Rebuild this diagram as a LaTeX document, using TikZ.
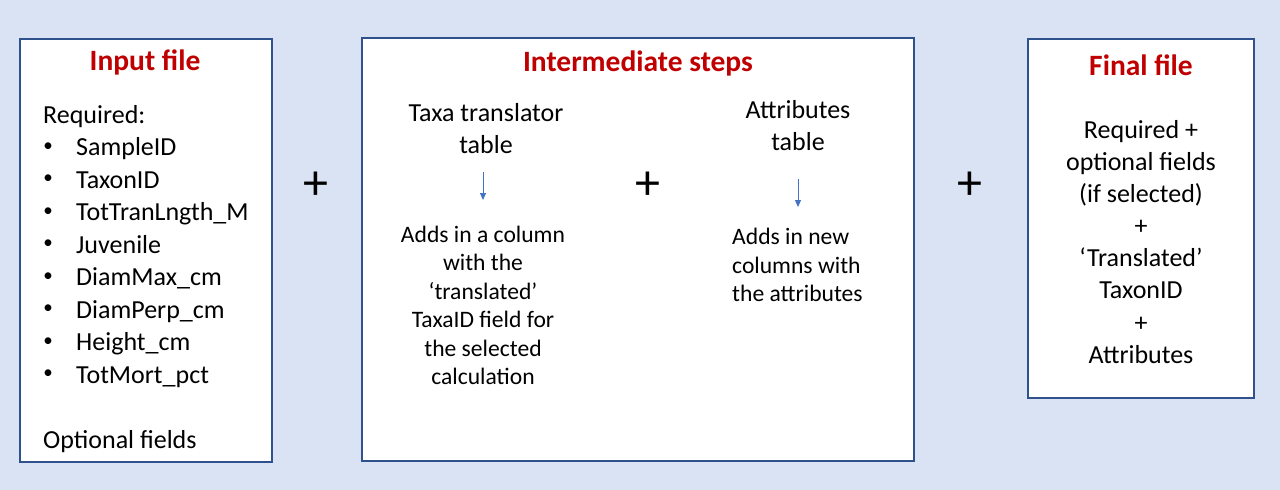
\documentclass[tikz,border=0pt]{standalone}
\usepackage{fontspec}
\setmainfont{Carlito}
\usetikzlibrary{arrows.meta}
\definecolor{bgblue}{HTML}{DAE3F3}
\definecolor{boxline}{HTML}{2F528F}
\definecolor{titlered}{HTML}{C00000}
\definecolor{arrowblue}{HTML}{4472C4}
\tikzset{
  panel/.style={draw=boxline, line width=2pt, fill=white},
  ttl/.style={anchor=base, inner sep=0pt, text=titlered, font=\fontsize{29.5}{35}\selectfont\bfseries},
  body/.style={anchor=base, inner sep=0pt, font=\fontsize{26}{32}\selectfont},
  bodyw/.style={anchor=base west, inner sep=0pt, font=\fontsize{26}{32}\selectfont},
  bul/.style={anchor=center, inner sep=0pt, font=\fontsize{19}{22}\selectfont},
  small/.style={anchor=base, inner sep=0pt, font=\fontsize{23.6}{28}\selectfont},
  smallw/.style={anchor=base west, inner sep=0pt, font=\fontsize{23.6}{28}\selectfont},
  plus/.style={anchor=base, inner sep=0pt, font=\fontsize{50}{60}\selectfont},
  flow/.style={draw=arrowblue, line width=1pt, -{Triangle[width=6pt,length=7pt]}}
}
\begin{document}
\begin{tikzpicture}[x=1pt,y=-1pt]
\useasboundingbox (0,0) rectangle (1280,490);
\fill[bgblue] (0,0) rectangle (1280,490);
% panels
\draw[panel] (20,39) rectangle (272,462);
\draw[panel] (362,38) rectangle (914,461);
\draw[panel] (1028,39) rectangle (1254,398);
% input file
\node[ttl] (t1) at (145,70) {Input file};
\node[bodyw] (req) at (43,123) {Required:};
\foreach \i/\txt in {1/SampleID,2/TaxonID,3/TotTranLngth\_M,4/Juvenile,5/DiamMax\_cm,6/DiamPerp\_cm,7/Height\_cm,8/TotMort\_pct}{
  \node[bul] (b\i) at (48,{123+32.5*\i-8.5}) {•};
  \node[bodyw] (f\i) at (76,{123+32.5*\i}) {\txt};
}
\node[bodyw] (opt) at (43,448) {Optional fields};
% intermediate
\node[ttl] (t2) at (638,71) {Intermediate steps};
\node[body] (tt1) at (486,121) {Taxa translator};
\node[body] (tt2) at (486,153) {table};
\node[body] (at1) at (798,118) {Attributes};
\node[body] (at2) at (798,150) {table};
\coordinate (a1s) at (483,172);
\coordinate (a1e) at (483,200);
\coordinate (a2s) at (798,179);
\coordinate (a2e) at (798,207);
\draw[flow] (a1s) -- (a1e);
\draw[flow] (a2s) -- (a2e);
\node[small] (c1) at (483,242) {Adds in a column};
\node[small] (c2) at (483,270.5) {with the};
\node[small] (c3) at (483,299) {‘translated’};
\node[small] (c4) at (483,327.5) {TaxaID field for};
\node[small] (c5) at (483,356) {the selected};
\node[small] (c6) at (483,384.5) {calculation};
\node[smallw] (d1) at (732,244) {Adds in new};
\node[smallw] (d2) at (732,273) {columns with};
\node[smallw] (d3) at (732,301) {the attributes};
% final
\node[ttl] (t3) at (1141,75) {Final file};
\node[body] (g1) at (1141,138) {Required +};
\node[body] (g2) at (1141,170) {optional fields};
\node[body] (g3) at (1141,202) {(if selected)};
\node[body] (g4) at (1141,234) {+};
\node[body] (g5) at (1141,266) {‘Translated’};
\node[body] (g6) at (1141,298) {TaxonID};
\node[body] (g7) at (1141,331) {+};
\node[body] (g8) at (1141,363) {Attributes};
% plus signs
\node[plus] (p1) at (316,199) {+};
\node[plus] (p2) at (648,199) {+};
\node[plus] (p3) at (970,199) {+};
\end{tikzpicture}
\end{document}
